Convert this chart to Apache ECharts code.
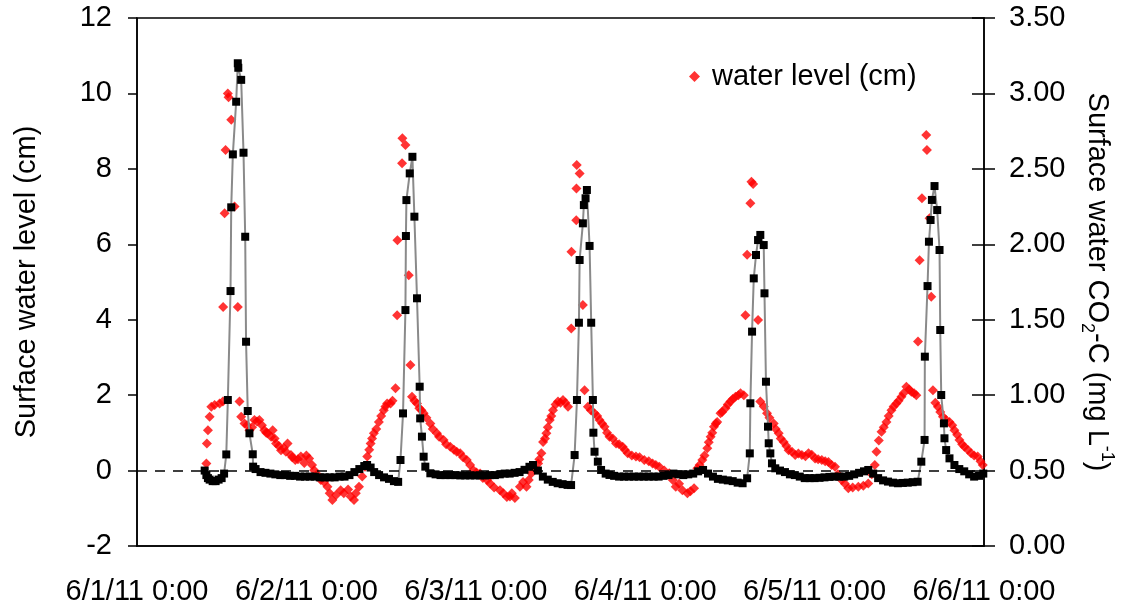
<!DOCTYPE html>
<html>
<head>
<meta charset="utf-8">
<script src="https://cdn.jsdelivr.net/npm/echarts@6/dist/echarts.min.js"></script>
<style>
  html, body { margin: 0; padding: 0; background: #fff; }
  #chart { width: 1124px; height: 608px; }
</style>
</head>
<body>
<div id="chart"></div>
<script>
/* hours since 6/1/11 0:00, surface water level (cm) */
var waterLevel = [
    // day 1
    [9.83,0.19],[9.9,0.72],[10.05,1.07],[10.29,1.43],[10.53,1.69],[11.0,1.74],[11.7,1.78],[12.17,1.83],
    [12.2,4.34],[12.41,6.82],[12.55,8.5],[12.87,10.0],[12.97,9.9],[13.35,9.3],[13.82,7.0],[14.28,4.34],
    [14.52,1.83],[14.76,1.43],[15.23,1.25],[15.6,1.2],[15.93,1.07],[16.3,1.15],[16.64,1.34],[17.0,1.3],
    [17.34,1.34],[17.7,1.2],[18.05,1.07],[18.3,1.0],[18.51,0.99],[19.0,0.9],[19.22,1.07],[19.5,0.85],
    [19.7,0.72],[20.1,0.65],[20.4,0.54],[20.8,0.6],[21.1,0.5],[21.33,0.72],[21.81,0.41],[22.0,0.35],
    [22.42,0.28],[22.8,0.3],[23.22,0.37],[23.7,0.2],[24.0,0.4],[24.39,0.32],[24.8,0.15],[25.1,0.01],
    [25.5,-0.1],[26.04,-0.25],[26.5,-0.3],[26.98,-0.43],[27.3,-0.6],[27.68,-0.78],[28.2,-0.65],[28.86,-0.52],
    [29.3,-0.6],[29.9,-0.5],[30.27,-0.69],[30.74,-0.78],[31.0,-0.6],[31.45,-0.43],
    // day 2
    [31.91,-0.16],[32.3,0.1],[32.62,0.37],[32.9,0.55],[33.1,0.72],[33.3,0.85],[33.56,0.99],[33.9,1.1],
    [34.27,1.29],[34.6,1.45],[34.97,1.6],[35.2,1.7],[35.44,1.78],[35.92,1.78],[36.2,1.85],[36.62,2.18],
    [36.85,4.12],[36.9,6.11],[37.55,8.15],[37.6,8.81],[38.03,8.63],[38.5,5.18],[38.74,2.8],[38.96,1.96],
    [39.3,1.85],[39.67,1.78],[40.0,1.65],[40.3,1.6],[40.61,1.52],[41.0,1.4],[41.56,1.25],[41.9,1.1],
    [42.49,0.99],[42.8,0.9],[43.43,0.81],[43.8,0.7],[44.38,0.63],[44.9,0.55],[45.3,0.5],[45.79,0.46],
    [46.2,0.35],[46.72,0.28],[47.2,0.15],[47.66,0.01],[48.1,-0.05],[48.61,-0.08],[49.0,-0.2],[49.6,-0.25],
    [50.02,-0.34],[50.6,-0.45],[51.43,-0.52],[51.9,-0.6],[52.4,-0.7],[52.84,-0.69],[53.1,-0.6],[53.54,-0.73],
    [54.25,-0.43],[54.7,-0.3],[55.18,-0.43],[55.5,-0.25],
    // day 3
    [55.88,-0.07],[56.4,0.05],[56.83,0.19],[57.0,0.3],[57.29,0.46],[57.53,0.76],[57.8,0.85],[58.0,0.99],
    [58.2,1.15],[58.48,1.34],[58.7,1.45],[58.94,1.6],[59.3,1.75],[59.65,1.83],[60.0,1.8],[60.35,1.87],
    [60.7,1.8],[61.06,1.69],[61.52,3.77],[61.55,5.8],[62.23,6.64],[62.26,7.48],[62.3,8.1],[62.71,7.88],
    [63.17,4.39],[63.41,2.13],[63.88,1.69],[64.3,1.6],[64.82,1.52],[65.2,1.45],[65.53,1.34],[65.9,1.25],
    [66.23,1.16],[66.6,1.0],[66.94,0.9],[67.4,0.85],[67.87,0.72],[68.3,0.7],[68.81,0.63],[69.1,0.55],
    [69.52,0.46],[70.1,0.4],[70.69,0.37],[71.2,0.35],[71.87,0.28],[72.5,0.25],[73.04,0.19],[73.5,0.15],
    [73.99,0.1],[74.7,0.0],[75.4,-0.07],[75.9,-0.25],[76.33,-0.43],[76.8,-0.35],[77.27,-0.52],[77.98,-0.6],
    [78.4,-0.55],[78.92,-0.47],
    // day 4
    [79.39,0.06],[79.7,0.15],[80.09,0.28],[80.4,0.4],[80.8,0.59],[81.0,0.75],[81.27,0.9],[81.5,1.0],
    [81.74,1.16],[82.0,1.25],[82.2,1.29],[82.67,1.52],[82.9,1.55],[83.38,1.65],[83.7,1.75],[84.08,1.83],
    [84.4,1.9],[84.79,1.96],[85.2,2.0],[85.5,2.05],[85.97,2.0],[86.2,4.12],[86.44,5.72],[86.9,7.09],
    [87.05,7.66],[87.29,7.6],[87.99,3.99],[88.31,1.83],[88.8,1.7],[89.26,1.52],[89.6,1.4],[90.2,1.25],
    [90.5,1.1],[90.91,0.99],[91.2,0.85],[91.62,0.76],[92.0,0.65],[92.32,0.54],[92.8,0.5],[93.25,0.41],
    [93.7,0.45],[94.2,0.41],[94.7,0.38],[95.14,0.46],[95.6,0.42],[96.07,0.32],[96.5,0.3],[97.02,0.28],
    [97.5,0.25],[97.96,0.23],[98.4,0.15],[98.89,0.1],[99.3,-0.1],[99.84,-0.25],[100.3,-0.35],[100.78,-0.47],
    [101.4,-0.45],[102.19,-0.43],[102.9,-0.4],[103.6,-0.34],[104.1,-0.1],
    // day 5
    [104.53,0.15],[104.77,0.5],[105.1,0.8],[105.48,1.03],[105.8,1.15],[106.18,1.29],[106.5,1.45],[106.89,1.6],
    [107.2,1.7],[107.59,1.78],[107.9,1.85],[108.3,1.96],[108.6,2.05],[109.0,2.22],[109.4,2.15],[109.71,2.09],
    [110.1,2.05],[110.41,2.0],[110.65,3.42],[110.88,5.58],[111.21,7.22],[111.82,8.9],[111.92,8.5],[112.29,6.69],
    [112.53,4.61],[112.77,2.13],[113.1,1.8],[113.47,1.69],[113.8,1.55],[114.18,1.43],[114.6,1.35],[115.11,1.29],
    [115.5,1.2],[115.81,1.07],[116.2,0.95],[116.52,0.81],[116.9,0.7],[117.22,0.63],[117.7,0.55],[118.17,0.46],
    [118.6,0.4],[119.11,0.37],[119.5,0.25],[119.82,0.15]
];

/* hours since 6/1/11 0:00, surface water CO2-C (mg/L) */
var co2 = [
    [9.59,0.5],[9.83,0.47],[10.05,0.45],[10.29,0.44],[10.72,0.43],[11.14,0.43],[11.56,0.44],[11.99,0.45],[12.34,0.48],
    [12.65,0.607],[12.87,0.968],[13.25,1.69],[13.35,2.245],[13.58,2.596],[14.05,2.945],[14.28,3.2],[14.35,3.17],
    [14.76,3.09],[15.09,2.607],[15.33,2.05],[15.45,1.354],[15.69,0.895],[15.93,0.747],[16.4,0.608],[16.45,0.526],
    [16.8,0.51],[17.5,0.49],[18.2,0.485],[18.9,0.48],[19.6,0.475],[20.3,0.47],[21.0,0.47],[21.7,0.465],[22.4,0.465],
    [23.1,0.46],[23.8,0.46],[24.5,0.46],[25.2,0.46],[25.9,0.455],[26.6,0.455],[27.3,0.455],[28.0,0.455],[28.7,0.46],
    [29.4,0.46],[30.1,0.47],[30.8,0.49],[31.5,0.51],[32.2,0.53],[32.6,0.537],[33.1,0.52],[33.6,0.49],[34.3,0.47],
    [35.0,0.455],[35.7,0.445],[36.4,0.43],[37.0,0.425],
    [37.33,0.57],[37.69,0.879],[38.03,1.564],[38.1,2.055],[38.17,2.293],[38.64,2.47],[39.02,2.58],[39.3,2.183],
    [39.67,1.642],[40.05,1.056],[40.12,0.846],[40.37,0.725],[40.61,0.592],[40.85,0.526],
    [41.56,0.482],[42.3,0.475],[43.0,0.47],[43.7,0.47],[44.4,0.47],[45.1,0.47],[45.8,0.468],[46.5,0.468],[47.2,0.468],
    [47.9,0.468],[48.6,0.468],[49.3,0.468],[50.0,0.47],[50.7,0.47],[51.4,0.475],[52.1,0.48],[52.8,0.48],[53.5,0.485],
    [54.2,0.49],[54.9,0.505],[55.6,0.525],[56.1,0.537],[56.8,0.5],[57.5,0.46],[58.2,0.44],[58.9,0.425],[59.6,0.416],
    [60.3,0.41],[61.0,0.405],[61.5,0.404],
    [62.0,0.603],[62.33,0.968],[62.61,1.48],[62.71,1.896],[63.17,2.139],[63.31,2.26],[63.55,2.305],[63.74,2.36],
    [64.12,1.989],[64.35,1.48],[64.59,0.968],[64.66,0.751],[64.82,0.625],[65.29,0.559],
    [65.75,0.504],[66.4,0.48],[66.94,0.471],[67.6,0.465],[68.3,0.46],[69.0,0.46],[69.7,0.46],[70.4,0.46],[71.1,0.46],
    [71.8,0.46],[72.5,0.46],[73.2,0.46],[73.9,0.46],[74.6,0.465],[75.3,0.47],[76.0,0.48],[76.7,0.475],[77.4,0.47],
    [78.1,0.475],[78.8,0.48],[79.5,0.495],[80.2,0.504],[80.9,0.48],[81.6,0.46],[82.3,0.445],[83.0,0.44],[83.7,0.435],
    [84.4,0.43],[85.1,0.42],[85.8,0.416],[86.44,0.449],
    [86.82,0.614],[86.9,0.946],[87.14,1.421],[87.38,1.774],[87.7,1.929],[87.99,2.028],[88.31,2.062],[88.79,1.995],
    [88.9,1.675],[89.11,1.089],[89.4,0.791],[89.5,0.681],[89.73,0.614],[89.96,0.548],
    [90.43,0.515],[91.1,0.5],[91.8,0.49],[92.5,0.475],[93.2,0.47],[93.9,0.46],[94.6,0.45],[95.3,0.45],[96.0,0.45],
    [96.7,0.452],[97.4,0.455],[98.1,0.458],[98.8,0.46],[99.5,0.46],[100.2,0.46],[100.9,0.465],[101.6,0.475],
    [102.3,0.485],[103.0,0.495],[103.6,0.504],[104.3,0.48],[105.0,0.45],[105.7,0.435],[106.4,0.427],[107.1,0.42],
    [107.8,0.416],[108.5,0.418],[109.2,0.42],[109.9,0.423],[110.6,0.426],[111.12,0.559],
    [111.58,0.703],[111.62,1.255],[112.0,1.723],[112.2,2.017],[112.43,2.161],[112.62,2.294],[112.99,2.386],
    [113.37,2.227],[113.7,1.962],[113.8,1.432],[113.94,1.001],[114.32,0.813],[114.4,0.714],[114.64,0.636],
    [115.11,0.581],[115.81,0.537],[116.5,0.51],[117.2,0.495],[117.9,0.475],[118.6,0.46],[119.3,0.465],[119.9,0.48]
];

var levelTicks = [-2, 12, 2];     // min, max, step (cm)
var co2Ticks = [0, 3.5, 0.5];     // min, max, step (mg/L)

var FONT = "'Liberation Sans', Arial, sans-serif";

function dayLabel(v){
    var day = 1 + Math.round(v / 24);
    return "6/" + day + "/11 0:00";
}

var chart = echarts.init(document.getElementById("chart"));
var option = {
    animation: false,
    backgroundColor: "#fff",
    textStyle: { fontFamily: FONT, color: "#000" },
    grid: {
        left: 137, right: 136, top: 18, bottom: 62,
        show: true, borderColor: "#000", borderWidth: 1.5
    },
    legend: {
        left: 684, top: 57,
        data: [{ name: "water level (cm)", icon: "diamond" }],
        itemWidth: 11, itemHeight: 11, itemGap: 10,
        textStyle: { fontFamily: FONT, fontSize: 29, color: "#000", padding: [0, 0, 0, 7] }
    },
    xAxis: {
        type: "value",
        min: 0, max: 120, interval: 24,
        axisLine: { show: true, onZero: false, lineStyle: { color: "#000", width: 1.5 } },
        axisTick: { show: false },
        splitLine: { show: false },
        axisLabel: {
            formatter: dayLabel, margin: 31,
            fontFamily: FONT, fontSize: 29, color: "#000"
        }
    },
    yAxis: [
        {
            type: "value", position: "left",
            min: levelTicks[0], max: levelTicks[1], interval: levelTicks[2],
            name: "Surface water level (cm)",
            nameLocation: "middle", nameRotate: 90, nameGap: 96,
            nameTextStyle: { fontFamily: FONT, fontSize: 29, color: "#000" },
            axisLine: { show: true, lineStyle: { color: "#000", width: 1.5 } },
            axisTick: { show: true, inside: false, length: 9, lineStyle: { color: "#000", width: 1.5 } },
            splitLine: { show: false },
            axisLabel: { margin: 25, fontFamily: FONT, fontSize: 29, color: "#000" }
        },
        {
            type: "value", position: "right",
            min: co2Ticks[0], max: co2Ticks[1], interval: co2Ticks[2],
            name: "Surface water CO{sub|2}-C (mg L{sup|-1})",
            nameLocation: "middle", nameRotate: -90, nameGap: 94,
            nameTextStyle: {
                fontFamily: FONT, fontSize: 29, color: "#000", lineHeight: 38,
                rich: {
                    sub: { fontFamily: FONT, fontSize: 18, color: "#000", lineHeight: 18, verticalAlign: "bottom" },
                    sup: { fontFamily: FONT, fontSize: 18, color: "#000", lineHeight: 18, verticalAlign: "top" }
                }
            },
            axisLine: { show: true, lineStyle: { color: "#000", width: 1.5 } },
            axisTick: { show: true, inside: false, length: 11, lineStyle: { color: "#000", width: 1.5 } },
            splitLine: { show: false },
            axisLabel: {
                margin: 25, fontFamily: FONT, fontSize: 29, color: "#000",
                formatter: function(v){ return v.toFixed(2); }
            }
        },
        {
            // inner half of the crossing ticks on the right axis
            type: "value", position: "right",
            min: co2Ticks[0], max: co2Ticks[1], interval: co2Ticks[2],
            axisLine: { show: false },
            axisTick: { show: true, inside: true, length: 12, lineStyle: { color: "#000", width: 1.5 } },
            axisLabel: { show: false },
            splitLine: { show: false }
        }
    ],
    series: [
        {
            name: "water level (cm)",
            type: "scatter",
            yAxisIndex: 0,
            symbol: "diamond",
            symbolSize: 10,
            itemStyle: { color: "#ff0000" },
            data: waterLevel,
            z: 2,
            markLine: {
                silent: true,
                symbol: ["none", "none"],
                label: { show: false },
                lineStyle: { color: "#000", width: 1.5, type: [10, 8] },
                data: [{ yAxis: 0 }]
            }
        },
        {
            name: "CO2",
            type: "line",
            yAxisIndex: 1,
            symbol: "rect",
            symbolSize: 8,
            showAllSymbol: true,
            lineStyle: { color: "#8a8a8a", width: 2 },
            itemStyle: { color: "#000" },
            data: co2,
            z: 3
        }
    ]
};
chart.setOption(option);
</script>
</body>
</html>
